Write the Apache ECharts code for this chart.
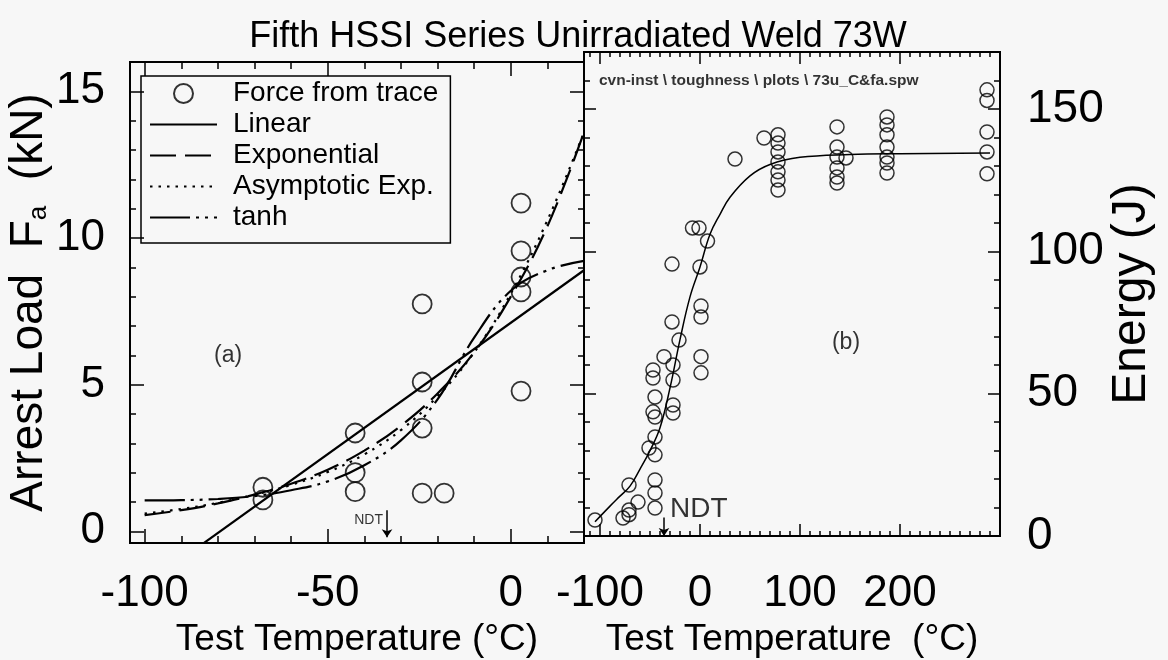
<!DOCTYPE html>
<html>
<head>
<meta charset="utf-8">
<title>Fifth HSSI Series Unirradiated Weld 73W</title>
<script src="https://cdn.jsdelivr.net/npm/echarts@6/dist/echarts.min.js"></script>
<style>
    html, body { margin: 0; padding: 0; background: #f7f7f7; }
    #chart { width: 1168px; height: 660px; }
</style>
</head>
<body>
<div id="chart"></div>
<script>
// ---- panel (a): arrest load ----
var forceTemp = [-67.7, -67.7, -42.5, -42.5, -42.5, -24.2, -24.2, -24.2, -24.2, -18.2, 2.8, 2.8, 2.8, 2.8, 2.8];
var forceLoad = [1.5, 1.07, 3.35, 2.0, 1.35, 7.75, 5.09, 3.52, 1.3, 1.3, 11.19, 9.56, 8.67, 8.16, 4.78];

var fitTemp  = [-100, -90, -80, -70, -60, -50, -40, -30, -20, -10, 0, 10, 20];
var expLoad  = [0.55, 0.72, 0.95, 1.25, 1.62, 2.1, 2.75, 3.6, 4.7, 6.1, 8.0, 10.4, 13.6];
var asymLoad = [0.6, 0.76, 0.97, 1.25, 1.58, 2.02, 2.62, 3.45, 4.6, 6.1, 8.1, 10.6, 13.6];
var tanhLoad = [1.05, 1.06, 1.1, 1.2, 1.4, 1.7, 2.25, 3.1, 4.5, 6.6, 8.2, 8.9, 9.22];
var linTemp  = [-100, 20];
var linLoad  = [-1.85, 8.9];

// ---- panel (b): Charpy energy ----
var cvnTemp = [-105, -77, -71, -71, -62, -71, -45, -45, -45, -45, -51, -45, -45, -47, -45, -47, -47, -36,
    -27, -27, -27, -27, -21, 1, 1, -28, 1, 1, -28, 0, -7.5, -1, 7.5, 35, 64,
    78, 78, 78, 78, 78, 78, 78, 137, 137, 137, 137, 137, 137, 146,
    187, 187, 187, 187, 187, 187, 187, 287, 287, 287, 287, 287];
var cvnEnergy = [5.6, 6.3, 7.5, 9.1, 11.9, 17.9, 9.8, 15.1, 19.7, 28.5, 30.9, 34.8, 41.8, 43.6, 48.8, 55.5, 58.3, 63,
    60.1, 54.8, 46, 43.2, 68.8, 63, 57.3, 75.2, 76.9, 80.8, 95.5, 94.5, 108.2, 108.2, 103.6, 132.4, 139.8,
    140.9, 138, 134.9, 131.4, 127.9, 125, 121.5, 143.7, 136.6, 133.1, 129.3, 126.1, 124, 132.8,
    147.2, 144.4, 140.9, 136.6, 133.1, 131, 127.5, 156.7, 153, 141.9, 134.9, 127.2];

var curveTemp   = [-105, -90, -80, -70, -60, -50, -40, -30, -20, -10, 0, 10, 20, 30, 50, 70, 100, 150, 200, 290];
var curveEnergy = [5, 10.5, 14, 17.5, 23.5, 30, 38, 52, 69, 84, 94.5, 106, 113, 119, 126.5, 130.5, 133, 134, 134.3, 134.5];

// ---- tick labels ----
var tempTicksA = [-100, -50, 0];
var loadTicks = [0, 5, 10, 15];
var tempTicksB = [-100, 0, 100, 200];
var energyTicks = [0, 50, 100, 150];

var FONT = '"Liberation Sans", Arial, Helvetica, sans-serif';

function zip(xs, ys) {
    var out = [];
    for (var i = 0; i < xs.length; i++) out.push([xs[i], ys[i]]);
    return out;
}

function range(a, b, step) {
    var r = [];
    for (var v = a; v <= b + 1e-9; v += step) r.push(Math.round(v * 100) / 100);
    return r;
}

function axis(grid, pos, min, max, ticks, len, more) {
    var a = {
        type: 'value', gridIndex: grid, position: pos, min: min, max: max,
        axisLine: { show: true, onZero: false, lineStyle: { color: '#000', width: 2 } },
        axisTick: { show: true, inside: true, length: len, customValues: ticks, lineStyle: { color: '#000', width: 1.5 } },
        axisLabel: { show: false },
        splitLine: { show: false }
    };
    for (var k in more) a[k] = more[k];
    return a;
}

function label(vals, size, margin) {
    return { show: true, customValues: vals, fontSize: size, margin: margin, color: '#000', fontFamily: FONT };
}

// text note placed at a data point
function note(x, y, text, size, align, weight) {
    return {
        value: [x, y],
        label: {
            show: true, position: 'inside', formatter: text, fontSize: size, align: align || 'center',
            fontWeight: weight || 'normal', color: '#000', textBorderWidth: 0, fontFamily: FONT
        }
    };
}

var A = { xmin: -104, xmax: 20, ymin: -0.4, ymax: 16 };
var B = { xmin: -116, xmax: 300, ymin: 0, ymax: 170 };

var chart = echarts.init(document.getElementById('chart'));

var option = {
    animation: false,
    backgroundColor: '#f7f7f7',
    color: ['#000'],
    textStyle: { fontFamily: FONT, color: '#000' },
    title: {
        text: 'Fifth HSSI Series Unirradiated Weld 73W',
        left: 573, top: 14, textAlign: 'center',
        textStyle: { fontSize: 36, fontWeight: 'normal', color: '#000', fontFamily: FONT }
    },
    legend: {
        orient: 'vertical', left: 141, top: 76,
        data: ['Force from trace', 'Linear', 'Exponential', 'Asymptotic Exp.', 'tanh'],
        itemWidth: 67, itemHeight: 19, itemGap: 0, itemTextGap: 6,
        padding: [2, 12, 10, 8],
        borderColor: '#000', borderWidth: 1.5, borderRadius: 0,
        selectedMode: false,
        formatter: function (name) { return '{t|' + name + '}'; },
        textStyle: {
            fontSize: 28, lineHeight: 31, color: '#000', fontFamily: FONT,
            rich: { t: { fontSize: 28, lineHeight: 31, color: '#000', fontFamily: FONT, padding: [0, 0, 0, 11] } }
        }
    },
    grid: [
        { left: 130, top: 62, width: 454, height: 481, outerBoundsMode: 'none' },
        { left: 584, top: 52, width: 416, height: 484, outerBoundsMode: 'none' }
    ],
    xAxis: [
        axis(0, 'bottom', A.xmin, A.xmax, tempTicksA, 14, {
            axisLabel: label(tempTicksA, 44, 29),
            name: 'Test Temperature (°C)', nameLocation: 'middle', nameGap: 75,
            nameTextStyle: { fontSize: 37, color: '#000', fontFamily: FONT }
        }),
        axis(0, 'bottom', A.xmin, A.xmax, range(-100, 20, 10), 7),
        axis(0, 'top', A.xmin, A.xmax, tempTicksA, 14),
        axis(0, 'top', A.xmin, A.xmax, range(-100, 20, 10), 7),
        axis(1, 'bottom', B.xmin, B.xmax, tempTicksB, 12, {
            axisLabel: label(tempTicksB, 44, 36),
            name: 'Test Temperature  (°C)', nameLocation: 'middle', nameGap: 82,
            nameTextStyle: { fontSize: 37, color: '#000', fontFamily: FONT }
        }),
        axis(1, 'bottom', B.xmin, B.xmax, range(-110, 300, 10), 5),
        axis(1, 'top', B.xmin, B.xmax, tempTicksB, 12),
        axis(1, 'top', B.xmin, B.xmax, range(-110, 300, 10), 5)
    ],
    yAxis: [
        axis(0, 'left', A.ymin, A.ymax, loadTicks, 14, {
            axisLabel: label(loadTicks, 44, 25),
            name: 'Arrest Load  F{sub|a}  (kN)', nameLocation: 'middle', nameGap: 75, nameRotate: 90,
            nameTextStyle: {
                fontSize: 46, color: '#000', fontFamily: FONT,
                rich: { sub: { fontSize: 26, verticalAlign: 'bottom', lineHeight: 10, color: '#000', fontFamily: FONT } }
            }
        }),
        axis(0, 'left', A.ymin, A.ymax, range(0, 16, 1), 6),
        axis(0, 'right', A.ymin, A.ymax, loadTicks, 14),
        axis(0, 'right', A.ymin, A.ymax, range(0, 16, 1), 6),
        axis(1, 'right', B.ymin, B.ymax, energyTicks, 12, {
            axisLabel: label(energyTicks, 46, 27),
            name: 'Energy (J)', nameLocation: 'middle', nameGap: 105, nameRotate: 90,
            nameTextStyle: { fontSize: 48, color: '#000', fontFamily: FONT }
        }),
        axis(1, 'right', B.ymin, B.ymax, range(0, 170, 10), 6),
        axis(1, 'left', B.ymin, B.ymax, energyTicks, 12),
        axis(1, 'left', B.ymin, B.ymax, range(0, 170, 10), 6)
    ],
    series: [
        {
            name: 'Force from trace', type: 'scatter', xAxisIndex: 0, yAxisIndex: 0,
            data: zip(forceTemp, forceLoad), symbol: 'circle', symbolSize: 19,
            itemStyle: { color: 'transparent', borderColor: '#000', borderWidth: 1.8 }
        },
        {
            name: 'Linear', type: 'line', xAxisIndex: 0, yAxisIndex: 0,
            data: zip(linTemp, linLoad), symbol: 'none',
            itemStyle: { color: 'transparent' },
            lineStyle: { color: '#000', width: 2.2, type: 'solid' }
        },
        {
            name: 'Exponential', type: 'line', xAxisIndex: 0, yAxisIndex: 0,
            data: zip(fitTemp, expLoad), symbol: 'none', smooth: 0.4,
            itemStyle: { color: 'transparent' },
            lineStyle: { color: '#000', width: 2.2, type: [26, 9] }
        },
        {
            name: 'Asymptotic Exp.', type: 'line', xAxisIndex: 0, yAxisIndex: 0,
            data: zip(fitTemp, asymLoad), symbol: 'none', smooth: 0.4,
            itemStyle: { color: 'transparent' },
            lineStyle: { color: '#000', width: 2.2, type: [2.5, 6] }
        },
        {
            name: 'tanh', type: 'line', xAxisIndex: 0, yAxisIndex: 0,
            data: zip(fitTemp, tanhLoad), symbol: 'none', smooth: 0.4,
            itemStyle: { color: 'transparent' },
            lineStyle: { color: '#000', width: 2.2, type: [40, 6, 3, 6, 3, 6] }
        },
        {
            // annotations in panel (a)
            type: 'scatter', xAxisIndex: 0, yAxisIndex: 0, silent: true,
            symbolSize: 1, itemStyle: { color: 'transparent' },
            data: [
                note(-77.2, 6.0, '(a)', 23),
                note(-34.9, 0.38, 'NDT', 14, 'right')
            ],
            markLine: {
                silent: true, symbol: ['none', 'arrow'], symbolSize: 8,
                label: { show: false },
                lineStyle: { color: '#000', width: 1.5, type: 'solid' },
                data: [[{ coord: [-33.8, 0.72] }, { coord: [-33.8, -0.2] }]]
            }
        },
        {
            name: 'Charpy', type: 'scatter', xAxisIndex: 4, yAxisIndex: 4,
            data: zip(cvnTemp, cvnEnergy), symbol: 'circle', symbolSize: 14,
            itemStyle: { color: 'transparent', borderColor: '#000', borderWidth: 1.5 }
        },
        {
            name: 'CVN fit', type: 'line', xAxisIndex: 4, yAxisIndex: 4,
            data: zip(curveTemp, curveEnergy), symbol: 'none', smooth: 0.4,
            lineStyle: { color: '#000', width: 1.5 }
        },
        {
            // annotations in panel (b)
            type: 'scatter', xAxisIndex: 4, yAxisIndex: 4, silent: true,
            symbolSize: 1, itemStyle: { color: 'transparent' },
            data: [
                note(146, 67.8, '(b)', 23),
                note(-30, 9.5, 'NDT', 28, 'left'),
                note(-101, 160, 'cvn-inst \\ toughness \\ plots \\ 73u_C&fa.spw', 15.5, 'left', 'bold')
            ],
            markLine: {
                silent: true, symbol: ['none', 'arrow'], symbolSize: 8,
                label: { show: false },
                lineStyle: { color: '#000', width: 1.5, type: 'solid' },
                data: [[{ coord: [-36, 6.5] }, { coord: [-36, 0] }]]
            }
        }
    ]
};

chart.setOption(option);
</script>
</body>
</html>
